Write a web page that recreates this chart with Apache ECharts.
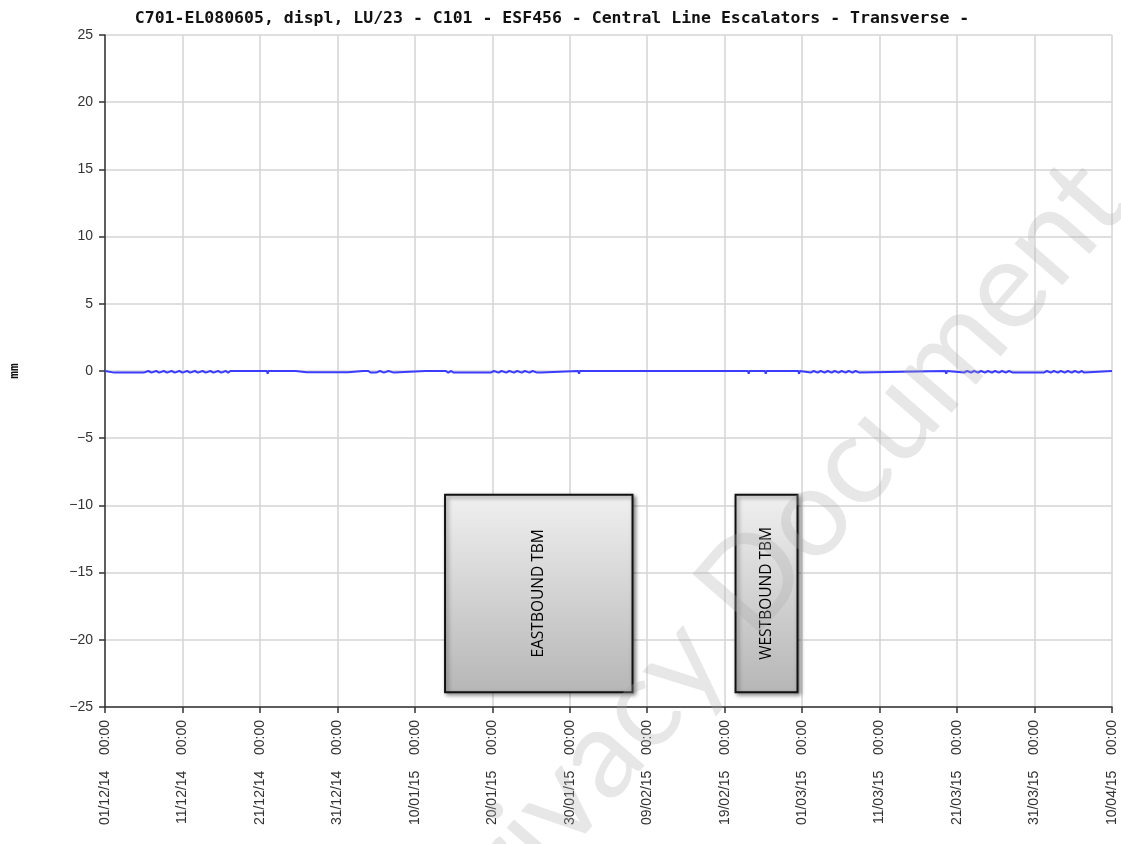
<!DOCTYPE html>
<html>
<head>
<meta charset="utf-8">
<script src="https://cdn.jsdelivr.net/npm/echarts@6/dist/echarts.min.js"></script>
<style>
  html, body { margin: 0; padding: 0; background: #fff; }
  #chart { width: 1121px; height: 844px; }
</style>
</head>
<body>
<div id="chart"></div>
<script>
// ---- data (x = days since 01/12/14 00:00) ----
const chartTitle = 'C701-EL080605, displ, LU/23 - C101 - ESF456 - Central Line Escalators - Transverse -';
const yAxisName = 'mm';
const xTickLabels = [
  '01/12/14    00:00', '11/12/14    00:00', '21/12/14    00:00', '31/12/14    00:00',
  '10/01/15    00:00', '20/01/15    00:00', '30/01/15    00:00', '09/02/15    00:00',
  '19/02/15    00:00', '01/03/15    00:00', '11/03/15    00:00', '21/03/15    00:00',
  '31/03/15    00:00', '10/04/15    00:00'
];
const yTicks = [-25, -20, -15, -10, -5, 0, 5, 10, 15, 20, 25];
const readings = [
  [0, 0], [1.2, -0.12], [1.5, -0.12], [1.8, -0.12], [2.1, -0.12], [2.4, -0.12], [2.7, -0.12],
  [3.0, -0.12], [3.3, -0.12], [3.6, -0.12], [3.9, -0.12], [4.2, -0.12], [4.5, -0.12], [5.0, -0.12],
  [5.6, 0], [6.0, -0.12], [6.6, 0], [7.0, -0.12], [7.6, 0], [8.0, -0.12], [8.6, 0], [9.0, -0.12],
  [9.6, 0], [10.0, -0.12], [10.6, 0], [11.0, -0.12], [11.6, 0], [12.0, -0.12], [12.6, 0],
  [13.0, -0.12], [13.6, 0], [14.0, -0.12], [14.6, 0], [15.0, -0.12], [15.6, 0], [15.9, -0.12],
  [16.2, 0], [20.9, 0], [21.0, -0.2], [21.1, 0],
  [24.6, 0], [24.7, -0.1], [26.0, -0.1], [27.5, -0.1], [29.0, -0.1], [30.5, -0.1], [31.4, -0.1], [31.5, 0],
  [33.3, 0], [33.5, -0.12], [34.0, 0], [34.3, -0.12], [34.6, -0.12], [35.0, -0.12], [35.5, 0],
  [36.0, -0.12], [36.6, 0], [37.3, -0.12], [37.4, 0],
  [41.4, 0], [41.6, -0.12], [42.2, 0], [42.4, -0.12], [43.0, 0], [43.2, -0.12], [44.0, 0],
  [44.3, -0.12], [44.7, 0], [45.0, -0.12], [45.6, -0.12], [46.5, -0.12], [47.5, -0.12],
  [48.5, -0.12], [49.8, -0.12], [50.2, 0], [50.8, -0.12], [51.2, 0], [51.8, -0.12], [52.2, 0],
  [52.8, -0.12], [53.2, 0], [53.8, -0.12], [54.2, 0], [54.8, -0.12], [55.2, 0], [55.8, -0.12],
  [56.3, -0.12], [56.4, 0],
  [61.1, 0], [61.2, -0.2], [61.3, 0],
  [83.0, 0], [83.1, -0.2], [83.2, 0], [85.2, 0], [85.3, -0.2], [85.4, 0],
  [89.5, 0], [89.6, -0.2], [89.7, 0],
  [91.1, -0.12], [91.5, 0], [92.0, -0.12], [92.4, 0], [92.9, -0.12], [93.3, 0], [93.8, -0.12],
  [94.2, 0], [94.7, -0.12], [95.1, 0], [95.6, -0.12], [96.0, 0], [96.5, -0.12], [96.9, 0],
  [97.4, -0.12], [97.6, 0],
  [108.5, 0], [108.6, -0.2], [108.7, 0],
  [110.9, -0.12], [111.3, 0], [111.8, -0.12], [112.2, 0], [112.7, -0.12], [113.1, 0],
  [113.6, -0.12], [114.0, 0], [114.5, -0.12], [114.9, 0], [115.4, -0.12], [115.8, 0],
  [116.3, -0.12], [116.7, 0], [117.2, -0.12], [117.4, 0],
  [121.2, -0.12], [121.6, 0], [122.1, -0.12], [122.5, 0], [123.0, -0.12], [123.4, 0],
  [123.9, -0.12], [124.3, 0], [124.8, -0.12], [125.2, 0], [125.7, -0.12], [126.1, 0],
  [126.4, -0.12], [126.6, 0], [130, 0]
];
// annotation boxes: [label, startDay, endDay, topValue, bottomValue]
const tbmPeriods = [
  ['EASTBOUND TBM', 43.9, 68.1, -9.2, -23.9],
  ['WESTBOUND TBM', 81.4, 89.4, -9.2, -23.9]
];
const watermarkText = 'Privacy Document';

// ---- chart ----
const chart = echarts.init(document.getElementById('chart'), null, { renderer: 'canvas' });
const boxFill = new echarts.graphic.LinearGradient(0, 0, 0, 1, [
  { offset: 0, color: '#f0f0f0' },
  { offset: 1, color: '#b6b6b6' }
]);
const option = {
  animation: false,
  backgroundColor: '#ffffff',
  title: {
    text: chartTitle,
    left: 547,
    textAlign: 'center',
    top: 5,
    textStyle: {
      fontFamily: 'DejaVu Sans Mono',
      fontWeight: 'bold',
      fontSize: 16.5,
      color: '#111'
    }
  },
  grid: { left: 104, right: 9, top: 35, bottom: 137, containLabel: false },
  xAxis: {
    type: 'value',
    min: 0,
    max: 130,
    interval: 10,
    axisLine: { show: true, onZero: false, lineStyle: { color: '#333', width: 1.5 } },
    axisTick: { show: true, length: 6, lineStyle: { color: '#333', width: 1.5 } },
    axisLabel: {
      rotate: 90,
      margin: 13,
      color: '#333',
      fontSize: 14,
      fontFamily: 'Liberation Sans',
      formatter: function (v) { return xTickLabels[Math.round(v / 10)] || ''; }
    },
    splitLine: { show: true, lineStyle: { color: '#d4d4d4', width: 1.5 } }
  },
  yAxis: {
    type: 'value',
    min: yTicks[0],
    max: yTicks[yTicks.length - 1],
    interval: 5,
    name: yAxisName,
    nameLocation: 'middle',
    nameRotate: 90,
    nameGap: 84,
    nameTextStyle: { fontFamily: 'DejaVu Sans Mono', fontWeight: 'bold', fontSize: 13, color: '#111' },
    axisLine: { show: true, lineStyle: { color: '#333', width: 1.5 } },
    axisTick: { show: true, length: 6, lineStyle: { color: '#333', width: 1.5 } },
    axisLabel: {
      margin: 12, color: '#333', fontSize: 14, fontFamily: 'Liberation Sans',
      formatter: function (v) { return String(v).replace('-', '\u2212'); }
    },
    splitLine: { show: true, lineStyle: { color: '#d4d4d4', width: 1.5 } }
  },
  series: [{
    type: 'line',
    data: readings,
    showSymbol: false,
    symbol: 'none',
    lineStyle: { color: '#3c3cff', width: 2 },
    z: 3,
    markArea: {
      silent: true,
      itemStyle: {
        color: boxFill,
        opacity: 1,
        borderColor: '#111',
        borderWidth: 2,
        shadowColor: 'rgba(0,0,0,0.45)',
        shadowBlur: 4,
        shadowOffsetX: 2,
        shadowOffsetY: 2
      },
      label: {
        show: true,
        position: 'inside',
        rotate: 90,
        color: '#000',
        fontSize: 15.5,
        fontFamily: 'Open Sans'
      },
      data: tbmPeriods.map(function (p) {
        return [{ name: p[0], coord: [p[1], p[3]] }, { coord: [p[2], p[4]] }];
      })
    }
  }],
  graphic: [{
    type: 'text',
    x: 770,
    y: 560,
    rotation: 49 * Math.PI / 180,
    z: 100,
    silent: true,
    style: {
      text: watermarkText,
      fill: 'rgba(170,170,170,0.28)',
      font: '125px Lato',
      textAlign: 'center',
      textVerticalAlign: 'middle'
    }
  }]
};
chart.setOption(option);
</script>
</body>
</html>
